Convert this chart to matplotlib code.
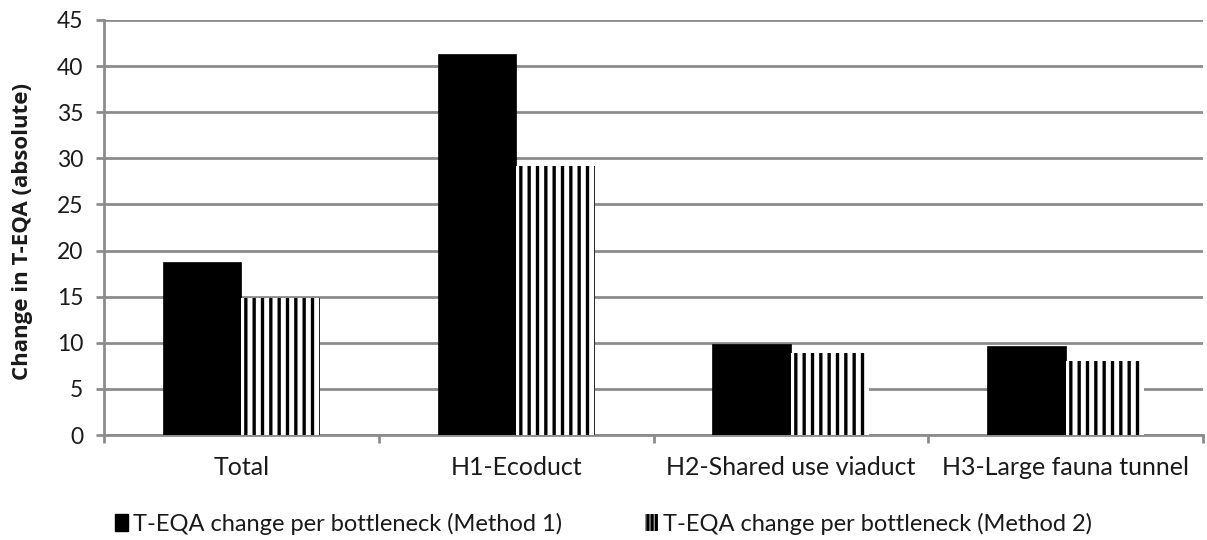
import matplotlib
matplotlib.use("Agg")
import matplotlib.pyplot as plt
import numpy as np
from matplotlib.patches import Patch

categories = ["Total", "H1-Ecoduct", "H2-Shared use viaduct", "H3-Large fauna tunnel"]
method1 = [18.8, 41.3, 9.9, 9.6]
method2 = [14.9, 29.2, 8.9, 8.0]
series_names = ["T-EQA change per bottleneck (Method 1)", "T-EQA change per bottleneck (Method 2)"]
yticks = [0, 5, 10, 15, 20, 25, 30, 35, 40, 45]

plt.rcParams['font.family'] = ['Lato', 'DejaVu Sans']
plt.rcParams['hatch.linewidth'] = 2.4

fig = plt.figure(figsize=(12.07, 5.40), dpi=100)
ax = fig.add_axes([104/1207, 1 - 435/540, (1203-104)/1207, (435-20)/540])

x = np.arange(len(categories))
w = 1/3.5
grid_c = "#8c8c8c"
txt_c = "#1a1a1a"
ax.set_axisbelow(True)
ax.yaxis.grid(True, color=grid_c, linewidth=2)
ax.bar(x - w/2, method1, width=w, color="black", edgecolor="black", linewidth=0.5, zorder=3)
ax.bar(x + w/2, method2, width=w, color="white", edgecolor="black", hatch="||", linewidth=0, zorder=3)

ax.set_xlim(-0.5, 3.5)
ax.set_ylim(0, 45)
ax.set_yticks(yticks)
ax.set_yticklabels([str(v) for v in yticks], fontsize=16.5, color=txt_c)
ax.set_xticks(x)
ax.set_xticklabels(categories, fontsize=18, color=txt_c)
ax.tick_params(axis='x', length=0, pad=15)
ax.set_xticks(np.arange(-0.5, 4.0, 1.0), minor=True)
ax.tick_params(axis='x', which='minor', length=6, width=2, color=grid_c, direction='out')
ax.tick_params(axis='y', length=6, width=2, color=grid_c, direction='out', pad=9)

for s in ["top", "right"]:
    ax.spines[s].set_visible(False)
for s in ["left", "bottom"]:
    ax.spines[s].set_color(grid_c)
    ax.spines[s].set_linewidth(2)

ax.set_ylabel("Change in T-EQA (absolute)", fontsize=16, fontweight="bold", color=txt_c,
              family=["Open Sans", "DejaVu Sans"])
ax.yaxis.set_label_coords((33-104)/1099, 0.49)

handles = [Patch(facecolor="black", edgecolor="black"),
           Patch(facecolor="white", edgecolor="black", hatch="||||", linewidth=0)]
fig.legend(handles, series_names, loc="center", bbox_to_anchor=(0.5, 1 - 524/540),
           ncol=2, frameon=False, fontsize=17, handlelength=0.55, handleheight=0.75,
           handletextpad=0.2, columnspacing=3.5, labelcolor=txt_c)

fig.savefig("out.png", dpi=100)
